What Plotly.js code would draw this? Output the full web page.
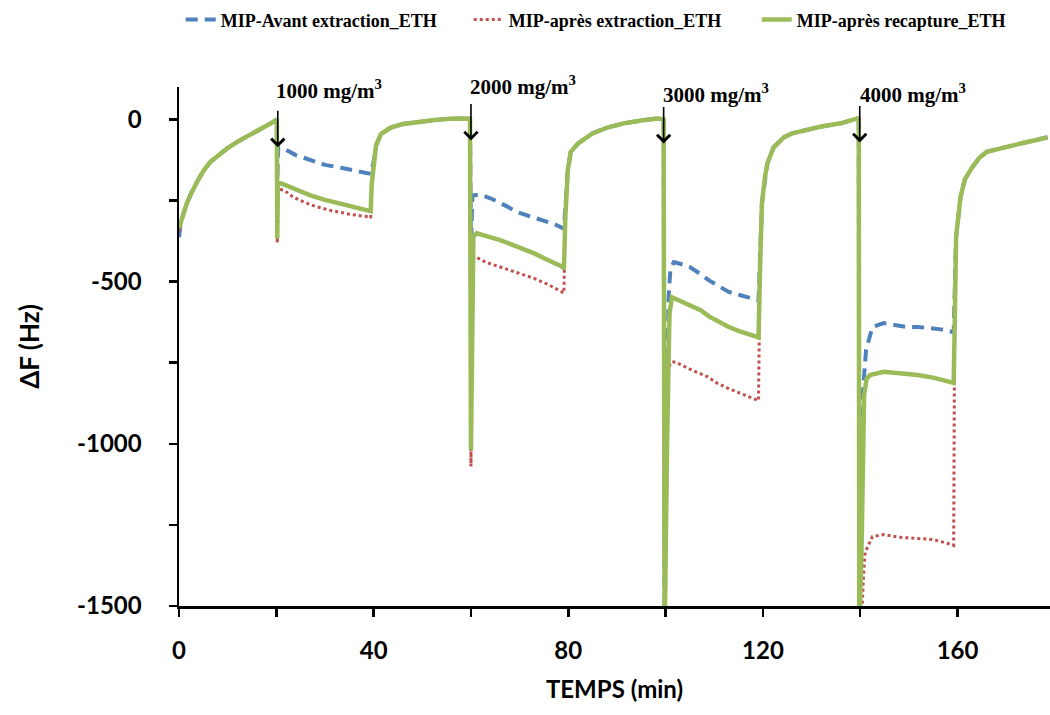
<!DOCTYPE html>
<html>
<head>
<meta charset="utf-8">
<script src="https://cdn.plot.ly/plotly-3.0.1.min.js"></script>
<style>html,body{margin:0;padding:0;background:#fff;}#chart{width:1050px;height:715px;}</style>
</head>
<body>
<div id="chart"></div>
<script>
// ---- Data ----
const seriesNames = ['MIP-Avant extraction_ETH', 'MIP-après extraction_ETH', 'MIP-après recapture_ETH'];

// MIP-après recapture_ETH (green)
const greenX = [0,0.4,1,1.7,2.5,3.2,4,5.1,6.5,8.6,10,12.1,14,15.4,17,18.9,20.1,
  20.2,20.3,20.5,21.5,24,27,30,32.6,36,39.2,
  39.4,39.6,40,40.5,41.5,43.5,46,49.7,53,56.5,59.8,
  60.0,60.2,60.5,61.2,64,66,70,73,76,78.9,
  79.1,79.4,79.9,80.5,82,85,88,91.4,95,98.4,99.6,
  99.8,100.3,100.8,101.3,104,107.2,109,111.3,113,115,117,118.9,
  119.1,119.4,119.8,120.4,120.9,122.2,124.3,126,129,132,136,139.4,139.7,
  139.8,140.3,140.8,141.3,142,144.8,148,151.8,155,158.9,
  159.2,159.4,159.7,160.6,161.5,163,164.5,166,168,170,172,173.6,176,178.5];
const greenY = [-335,-315,-285,-255,-228,-205,-185,-157,-130,-105,-88,-68,-53,-43,-28,-12,0,
  -366,-200,-194,-200,-217,-234,-248,-258,-270,-280,
  -283,-200,-130,-80,-45,-25,-14,-6,-1,3,2,
  -1020,-600,-360,-351,-362,-372,-395,-413,-435,-455,
  -462,-300,-157,-100,-74,-43,-25,-12,-3,3,0,
  -1600,-1000,-600,-548,-565,-588,-608,-628,-640,-652,-662,-670,
  -672,-465,-258,-180,-136,-86,-55,-43,-31,-22,-12,3,0,
  -1600,-1300,-850,-800,-788,-778,-782,-788,-796,-809,
  -812,-649,-363,-240,-185,-148,-118,-100,-92,-85,-78,-72,-64,-55];

// MIP-Avant extraction_ETH (blue)
const blueX = [0,0.4,1,1.7,2.5,3.2,4,5.1,6.5,8.6,10,12.1,14,15.4,17,18.9,20.1,
  20.2,20.4,21,24,27,30,34,37,39.2,
  39.4,40,40.5,41.5,43.5,46,49.7,53,56.5,59.8,
  60.0,60.3,62,64,67,69.6,72,75,77,78.9,
  79.1,79.9,80.5,82,85,88,91.4,95,98.4,99.6,
  99.8,100.3,100.6,101,101.7,103,105,107,109,111.3,113,115.4,117,118.9,
  119.1,119.8,120.4,120.9,122.2,124.3,126,129,132,136,139.4,139.7,
  139.8,140.3,140.6,141.2,142.5,144.8,147,149.7,152,155,157,158.9,
  159.2,159.7,160.6,161.5,163,164.5,166,168,170,172,173.6,176,178.5];
const blueY = [-363,-315,-285,-255,-228,-205,-185,-157,-130,-105,-88,-68,-53,-43,-28,-12,0,
  -190,-86,-86,-110,-126,-140,-151,-160,-166,
  -168,-130,-80,-45,-25,-14,-6,-1,3,2,
  -400,-234,-232,-243,-265,-286,-298,-311,-322,-335,
  -338,-157,-100,-74,-43,-25,-12,-3,3,0,
  -1600,-900,-550,-460,-440,-445,-455,-475,-497,-517,-532,-542,-550,-557,
  -558,-258,-180,-136,-86,-55,-43,-31,-22,-12,3,0,
  -1600,-1000,-830,-711,-640,-628,-633,-640,-640,-643,-648,-655,
  -658,-363,-240,-185,-148,-118,-100,-92,-85,-78,-72,-64,-55];

// MIP-après extraction_ETH (red)
const redX = [0,0.4,1,1.7,2.5,3.2,4,5.1,6.5,8.6,10,12.1,14,15.4,17,18.9,20.1,
  20.2,20.4,21.6,23.5,25.7,28,31,35,39.2,
  39.4,39.6,40,40.5,41.5,43.5,46,49.7,53,56.5,59.8,
  60.0,60.3,61,63,66,70,73,76,78.9,
  79.1,79.4,79.9,80.5,82,85,88,91.4,95,98.4,99.6,
  99.8,100.4,100.6,101,101.7,103,105,108.6,110.5,112.7,115,117,118.9,
  119.1,119.4,119.8,120.4,120.9,122.2,124.3,126,129,132,136,139.4,139.7,
  139.8,140.4,140.7,141,142.5,144.8,148,151.8,155,158.9,
  159.2,159.4,159.7,160.6,161.5,163,164.5,166,168,170,172,173.6,176,178.5];
const redY = [-345,-315,-285,-255,-228,-205,-185,-157,-130,-105,-88,-68,-53,-43,-28,-12,0,
  -382,-215,-218,-240,-255,-268,-280,-292,-301,
  -303,-200,-130,-80,-45,-25,-14,-6,-1,3,2,
  -1070,-430,-424,-440,-455,-475,-490,-510,-532,
  -535,-300,-157,-100,-74,-43,-25,-12,-3,3,0,
  -1600,-850,-772,-751,-747,-755,-770,-793,-812,-828,-842,-855,-865,
  -867,-465,-258,-180,-136,-86,-55,-43,-31,-22,-12,3,0,
  -1600,-1500,-1400,-1335,-1286,-1280,-1288,-1292,-1295,-1311,
  -1313,-649,-363,-240,-185,-148,-118,-100,-92,-85,-78,-72,-64,-55];

// Injection annotations
const injLabels = ['1000 mg/m<sup>3</sup>', '2000 mg/m<sup>3</sup>', '3000 mg/m<sup>3</sup>', '4000 mg/m<sup>3</sup>'];
const injTextX = [19.5, 59.4, 99.0, 139.5];
const injTextPaperY = [0.995, 1.003, 0.988, 0.988];
const injArrowX = [20.3, 60.0, 99.6, 139.9];
const injArrowY = [-86, -65, -74, -71];

const xTickVals = [0, 40, 80, 120, 160];
const xTickText = ['0', '40', '80', '120', '160'];
const yTickVals = [0, -500, -1000, -1500];
const yTickText = ['0', '-500', '-1000', '-1500'];

// ---- Traces ----
const traces = [
  {x: blueX, y: blueY, name: seriesNames[0], type: 'scatter', mode: 'lines',
   line: {color: '#4F81BD', width: 4, dash: '12px,7px'}},
  {x: redX, y: redY, name: seriesNames[1], type: 'scatter', mode: 'lines',
   line: {color: '#C0504D', width: 3, dash: 'dot'}},
  {x: greenX, y: greenY, name: seriesNames[2], type: 'scatter', mode: 'lines',
   line: {color: '#9BBB59', width: 4.5}}
];

const annotations = [];
for (let i = 0; i < injLabels.length; i++) {
  annotations.push({
    x: injTextX[i], y: injTextPaperY[i], xref: 'x', yref: 'paper',
    text: '<b>' + injLabels[i] + '</b>', showarrow: false,
    xanchor: 'left', yanchor: 'middle',
    font: {family: 'Liberation Serif', size: 21, color: '#000'}
  });
  annotations.push({
    x: injArrowX[i], y: injArrowY[i], xref: 'x', yref: 'y',
    text: '', showarrow: true, ax: 0, ay: -38,
    arrowhead: 4, arrowsize: 1.6, arrowwidth: 1.6, arrowcolor: '#000'
  });
}

const tickFont = {family: 'Lato', size: 24, color: '#000', weight: 700};

const layout = {
  width: 1050, height: 715,
  margin: {l: 179, r: 0, t: 87, b: 109},
  paper_bgcolor: '#fff', plot_bgcolor: '#fff',
  showlegend: true,
  legend: {orientation: 'h', x: 0.002, xanchor: 'left', y: 1.165, yanchor: 'top',
           entrywidth: 243, entrywidthmode: 'pixels',
           font: {family: 'Liberation Serif', size: 18, color: '#000', weight: 700},
           bgcolor: 'rgba(0,0,0,0)'},
  xaxis: {
    range: [0, 179], tickvals: xTickVals, ticktext: xTickText, ticks: 'outside', ticklen: 8, tickwidth: 2.5,
    tickcolor: '#000', showline: true, linecolor: '#000', linewidth: 2.5, showgrid: false,
    zeroline: false, tickfont: tickFont, ticklabelstandoff: 14,
    minor: {dtick: 20, tick0: 0, ticks: 'outside', ticklen: 8, tickwidth: 2.5, tickcolor: '#000', showgrid: false},
    title: {text: 'TEMPS (min)', font: {family: 'Lato', size: 24, color: '#000', weight: 700}, standoff: 18}
  },
  yaxis: {
    range: [-1500, 100], tickvals: yTickVals, ticktext: yTickText, ticks: 'outside', ticklen: 8, tickwidth: 2.5,
    tickcolor: '#000', showline: true, linecolor: '#000', linewidth: 2.5, showgrid: false,
    zeroline: false, tickfont: tickFont, ticklabelstandoff: 22,
    minor: {dtick: 250, tick0: 0, ticks: 'outside', ticklen: 8, tickwidth: 2.5, tickcolor: '#000', showgrid: false},
    title: {text: 'ΔF (Hz)', font: {family: 'Lato', size: 26, color: '#000', weight: 700}, standoff: 30}
  },
  annotations: annotations
};

Plotly.newPlot('chart', traces, layout, {displayModeBar: false, staticPlot: true});
</script>
</body>
</html>
